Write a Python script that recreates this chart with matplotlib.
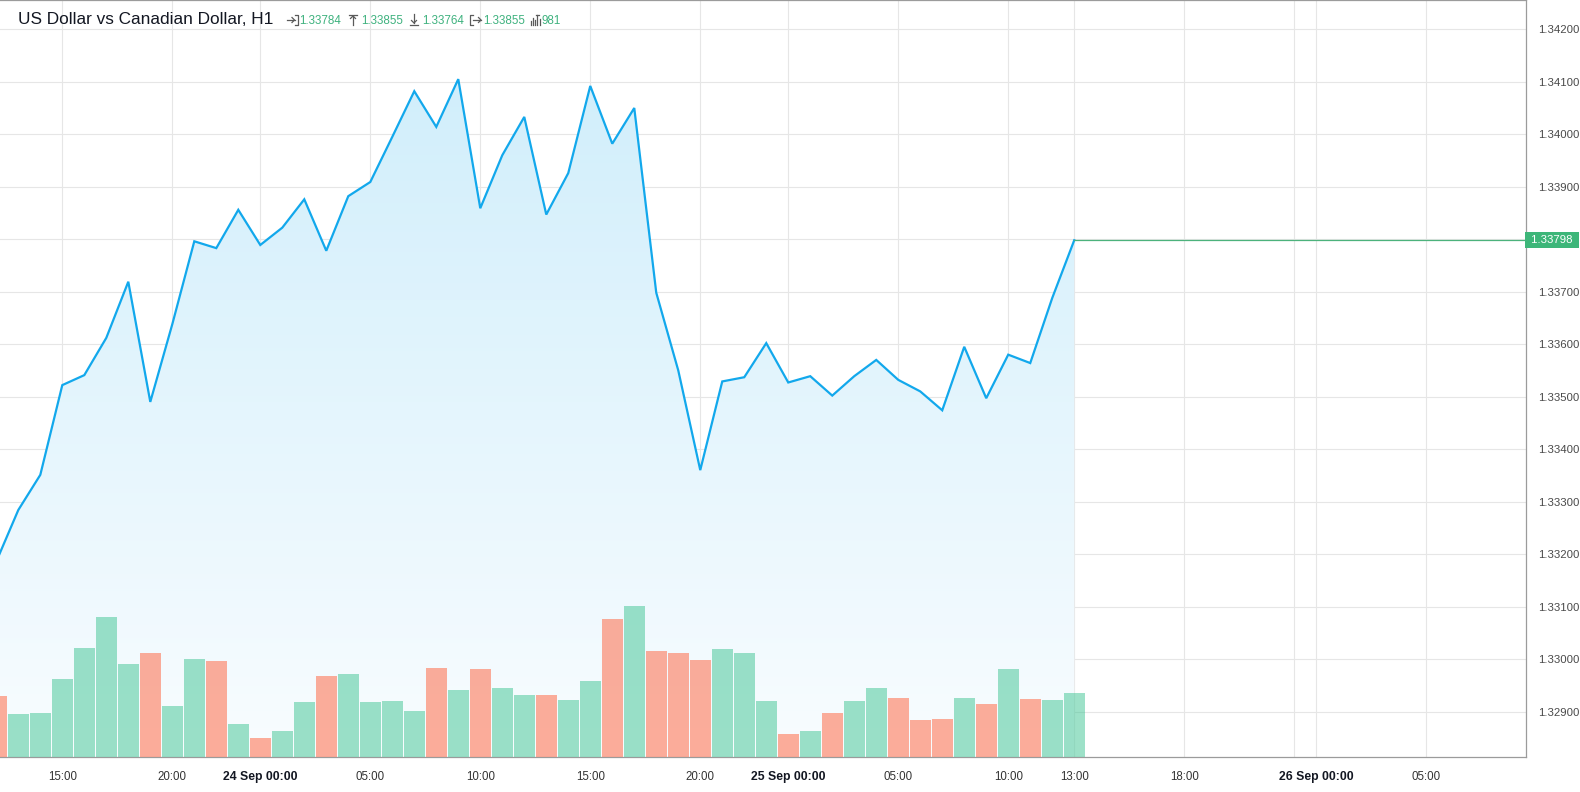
import matplotlib
matplotlib.use("Agg")
import matplotlib.pyplot as plt
import matplotlib.dates as mdates
from matplotlib.lines import Line2D
from matplotlib.transforms import blended_transform_factory
import numpy as np
import pandas as pd

W, H = 1580, 792

# hourly USDCAD closes, 23 Sep 12:00 -> 25 Sep 13:00
times = pd.date_range("2019-09-23 12:00", "2019-09-25 13:00", freq="h")
close = [1.33186, 1.33284, 1.33351, 1.33522, 1.33541, 1.33612, 1.33719, 1.33490,
         1.33638, 1.33796, 1.33783, 1.33856,
         1.33789, 1.33822, 1.33876, 1.33778, 1.33882, 1.33909, 1.33995, 1.34082,
         1.34014, 1.34105, 1.33859, 1.33960, 1.34033, 1.33847, 1.33926, 1.34092,
         1.33982, 1.34050, 1.33698, 1.33550, 1.33360, 1.33529, 1.33537, 1.33602,
         1.33527, 1.33539, 1.33502, 1.33539, 1.33570, 1.33532, 1.33510, 1.33474,
         1.33595, 1.33497, 1.33580, 1.33564, 1.33688, 1.33798]
volume = [935, 661, 676, 1195, 1668, 2141, 1424, 1592, 783, 1500, 1470, 508,
          295, 401, 844, 1241, 1271, 844, 859, 707, 1363, 1027, 1347, 1058,
          951, 951, 874, 1164, 2110, 2309, 1622, 1592, 1485, 1653, 1592, 859,
          356, 401, 676, 859, 1058, 905, 569, 584, 905, 813, 1347, 890, 874, 981]

price_ticks = np.round(np.arange(1.329, 1.3425, 0.001), 3)
tick_times = pd.to_datetime(["2019-09-23 15:00", "2019-09-23 20:00", "2019-09-24 00:00",
                             "2019-09-24 05:00", "2019-09-24 10:00", "2019-09-24 15:00",
                             "2019-09-24 20:00", "2019-09-25 00:00", "2019-09-25 05:00",
                             "2019-09-25 10:00", "2019-09-25 13:00", "2019-09-25 18:00",
                             "2019-09-25 23:00", "2019-09-26 00:00", "2019-09-26 05:00"])
tick_labels = ["15:00", "20:00", "24 Sep 00:00", "05:00", "10:00", "15:00", "20:00",
               "25 Sep 00:00", "05:00", "10:00", "13:00", "18:00", "", "26 Sep 00:00", "05:00"]

title = "US Dollar vs Canadian Dollar, H1"
ohlc_text = ["1.33784", "1.33855", "1.33764", "1.33855", "981"]
last_price = 1.33798

t0 = pd.Timestamp("2019-09-23 00:00")
xmin = t0 + pd.Timedelta(hours=12.168)
xmax = t0 + pd.Timedelta(hours=81.536)
ymin, ymax = 1.328128, 1.342558

fig = plt.figure(figsize=(W / 100, H / 100), dpi=100)
ax = fig.add_axes([0, 34.7 / H, 1526 / W, 757.3 / H])

grid_c = "#e6e6e6"
ax.grid(True, color=grid_c, lw=0.8, zorder=0)
ax.set_axisbelow(True)

# area with vertical gradient
poly = ax.fill_between(times, close, ymin, facecolor="none", edgecolor="none")
g = np.linspace(0, 1, 256)[:, None]
top_c = np.array([0.82, 0.935, 0.985])
bot_c = np.array([0.975, 0.99, 1.0])
img = top_c * (1 - g) + bot_c * g
xnum = mdates.date2num(times)
im = ax.imshow(img[:, None, :], extent=[xnum[0], xnum[-1], ymin, max(close)],
               aspect="auto", origin="upper", zorder=1)
im.set_clip_path(poly.get_paths()[0], transform=ax.transData)

ax.plot(times, close, color="#12a8ec", lw=1.6, zorder=3, solid_joinstyle="miter")
ax.plot([times[-1], xmax], [last_price, last_price], color="#4cb27c", lw=0.9, zorder=3)

# volume
ax2 = ax.twinx()
up = np.r_[False, np.diff(close) >= 0]
colors = ["#3cc492" if u else "#ff5e38" for u in up]
ax2.bar(times, volume, width=0.955 / 24, color=colors, alpha=0.5, lw=0, zorder=2)
ax2.set_ylim(0, 757.3 * 15.26)
ax2.yaxis.set_visible(False)
for s in ax2.spines.values():
    s.set_visible(False)

ax.set_xlim(xmin, xmax)
ax.set_ylim(ymin, ymax)
ax.yaxis.tick_right()
ax.set_yticks(price_ticks)
# the 1.33800 label sits under the last-price tag
ax.set_yticklabels(["" if abs(p - 1.338) < 1e-9 else "%.5f" % p for p in price_ticks])
ax.tick_params(axis="y", length=0, pad=9, labelsize=8.2, labelcolor="#4a4a4a",
               left=False, labelleft=False, right=True, labelright=True)
ax.set_xticks(tick_times)
ax.set_xticklabels(tick_labels)
ax.tick_params(axis="x", length=0, pad=10, labelsize=8.3, labelcolor="#333333")
for lab in ax.get_xticklabels() + ax.get_yticklabels():
    lab.set_fontfamily("Liberation Sans")
for lab in ax.get_xticklabels():
    if "Sep" in lab.get_text():
        lab.set_fontweight("bold")
        lab.set_fontsize(8.8)
        lab.set_color("#131722")

ax.spines["left"].set_visible(False)
for side in ["right", "bottom", "top"]:
    ax.spines[side].set_color("#9b9b9b")
    ax.spines[side].set_linewidth(0.9)

# last price label
tr = blended_transform_factory(ax.transAxes, ax.transData)
ax.text(1.0 + 2 / 1526, last_price, " 1.33798 ", transform=tr, ha="left", va="center",
        color="white", fontsize=8.2, family="Liberation Sans", clip_on=False,
        bbox=dict(boxstyle="square,pad=0.28", fc="#3db679", ec="none"))

# header
def fx(px):
    return px / W

def fy(py):
    return 1 - py / H

fig.text(fx(18), fy(20), title, fontsize=12.4, family="Liberation Sans",
         color="#131722", va="center", ha="left")
num_x = [299, 361, 422, 483, 542]
for x, s in zip(num_x, ohlc_text):
    fig.text(fx(x), fy(20.5), s, fontsize=8.4, family="Liberation Sans",
             color="#3fb27f", va="center", ha="left")

icons = [
    [[(287, 20), (294.5, 20)], [(292, 17.5), (294.5, 20), (292, 22.5)],
     [(295, 15), (297.5, 15), (297.5, 25), (295, 25)]],
    [[(349, 15), (357, 15)], [(353, 16), (353, 25)], [(350.5, 18.5), (353, 16), (355.5, 18.5)]],
    [[(414, 14), (414, 23)], [(411.5, 20.5), (414, 23), (416.5, 20.5)], [(410, 25), (418, 25)]],
    [[(473, 15), (470.5, 15), (470.5, 25), (473, 25)], [(473, 20), (481, 20)],
     [(478.5, 17.5), (481, 20), (478.5, 22.5)]],
    [[(531, 25), (531, 21)], [(533, 25), (533, 18)], [(535, 25), (535, 20)],
     [(537, 25), (537, 15)], [(535.5, 15), (538.5, 15)], [(539.5, 25), (539.5, 19)]],
]
for icon in icons:
    for seg in icon:
        xs = [fx(p[0]) for p in seg]
        ys = [fy(p[1]) for p in seg]
        fig.add_artist(Line2D(xs, ys, color="#5a5a5a", lw=0.9))

fig.savefig("out.png", dpi=100)
